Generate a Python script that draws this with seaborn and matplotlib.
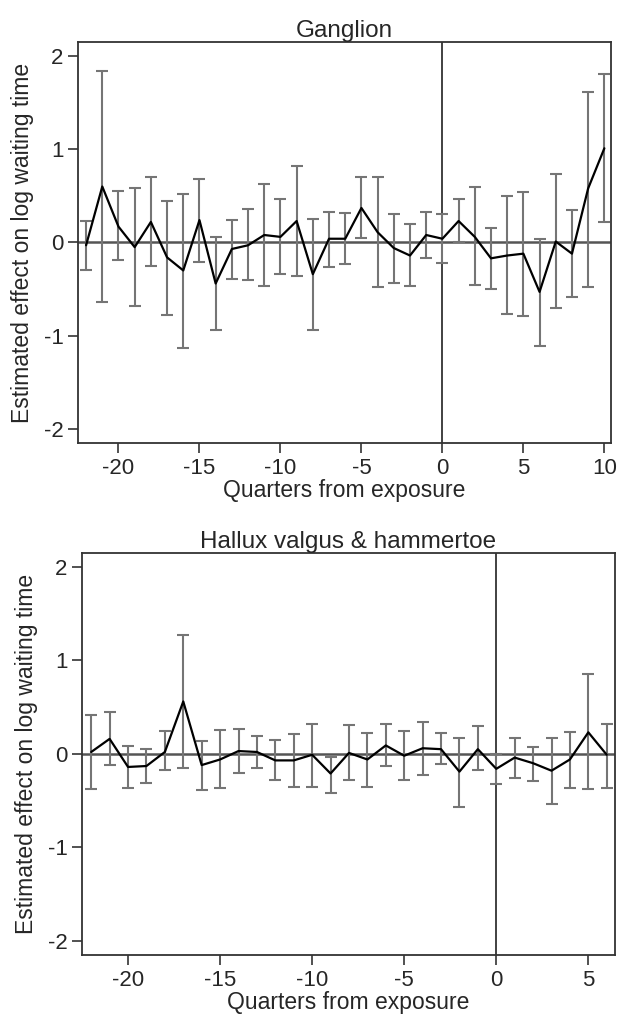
import numpy as np
import pandas as pd
import matplotlib
matplotlib.use('Agg')
import matplotlib.pyplot as plt
import seaborn as sns

# Ganglion estimates
gang_q = list(range(-22, 11))
gang_est = [-0.03, 0.60, 0.17, -0.05, 0.22, -0.16, -0.30, 0.24, -0.44, -0.07,
            -0.03, 0.08, 0.06, 0.23, -0.34, 0.04, 0.04, 0.37, 0.11, -0.06,
            -0.14, 0.08, 0.04, 0.23, 0.06, -0.17, -0.14, -0.12, -0.53, 0.01,
            -0.12, 0.58, 1.01]
gang_hi = [0.23, 1.84, 0.55, 0.58, 0.70, 0.45, 0.52, 0.68, 0.06, 0.24,
           0.36, 0.63, 0.47, 0.82, 0.25, 0.33, 0.32, 0.70, 0.70, 0.31,
           0.20, 0.33, 0.31, 0.47, 0.60, 0.16, 0.50, 0.54, 0.04, 0.73,
           0.35, 1.61, 1.81]
gang_lo = [-0.29, -0.64, -0.19, -0.68, -0.25, -0.78, -1.13, -0.21, -0.94, -0.39,
           -0.40, -0.47, -0.34, -0.36, -0.94, -0.26, -0.23, 0.05, -0.48, -0.43,
           -0.47, -0.17, -0.22, 0.00, -0.46, -0.50, -0.77, -0.79, -1.11, -0.70,
           -0.59, -0.48, 0.22]

# Hallux valgus & hammertoe estimates
hall_q = list(range(-22, 7))
hall_est = [0.02, 0.16, -0.14, -0.13, 0.02, 0.56, -0.12, -0.06, 0.03, 0.02,
            -0.07, -0.07, -0.01, -0.21, 0.01, -0.06, 0.09, -0.02, 0.06, 0.05,
            -0.19, 0.05, -0.16, -0.04, -0.10, -0.18, -0.06, 0.23, -0.01]
hall_hi = [0.42, 0.45, 0.08, 0.05, 0.24, 1.27, 0.14, 0.25, 0.27, 0.19,
           0.15, 0.21, 0.32, -0.03, 0.31, 0.22, 0.32, 0.24, 0.34, 0.22,
           0.17, 0.30, 0.00, 0.17, 0.07, 0.17, 0.23, 0.85, 0.32]
hall_lo = [-0.38, -0.12, -0.37, -0.31, -0.17, -0.15, -0.39, -0.36, -0.20, -0.15,
           -0.28, -0.35, -0.35, -0.42, -0.28, -0.35, -0.13, -0.28, -0.23, -0.11,
           -0.57, -0.17, -0.32, -0.26, -0.29, -0.54, -0.36, -0.38, -0.36]

sns.set_style("ticks")
plt.rcParams['font.family'] = ['Liberation Sans', 'DejaVu Sans']
plt.rcParams['axes.unicode_minus'] = False

fig = plt.figure(figsize=(6.17, 10.19), dpi=100)
ax1 = fig.add_axes([0.1264, 0.5653, 0.8636, 0.3935])
ax2 = fig.add_axes([0.1329, 0.0628, 0.8639, 0.3948])


def panel(ax, q, est, lo, hi, title, xmax):
    df = pd.DataFrame({'q': q, 'est': est, 'lo': lo, 'hi': hi})
    ax.axhline(0, color='#555555', lw=1.8, zorder=1)
    ax.axvline(0, color='#333333', lw=1.3, zorder=1)
    ax.errorbar(df['q'], df['est'],
                yerr=[df['est'] - df['lo'], df['hi'] - df['est']],
                fmt='none', ecolor='#757575', elinewidth=1.5,
                capsize=4.3, capthick=1.5, zorder=2)
    sns.lineplot(data=df, x='q', y='est', ax=ax, color='black', lw=1.6, zorder=3)
    ax.set_xlim(-22.5, xmax)
    ax.set_ylim(-2.15, 2.15)
    ax.set_yticks([-2, -1, 0, 1, 2])
    ax.set_xticks(list(range(-20, int(xmax) + 1, 5)))
    ax.set_title(title, fontsize=17.5, pad=3.5)
    ax.set_xlabel('Quarters from exposure', fontsize=16.5, labelpad=0)
    ax.set_ylabel('Estimated effect on log waiting time', fontsize=16.5, labelpad=7)
    ax.tick_params(labelsize=16, length=7, width=1.2, color='#333333', pad=3.5)
    for s in ax.spines.values():
        s.set_visible(True)
        s.set_linewidth(1.3)
        s.set_color('#333333')


panel(ax1, gang_q, gang_est, gang_lo, gang_hi, 'Ganglion', 10.4)
panel(ax2, hall_q, hall_est, hall_lo, hall_hi, 'Hallux valgus & hammertoe', 6.45)

fig.savefig('out.png', dpi=100)
